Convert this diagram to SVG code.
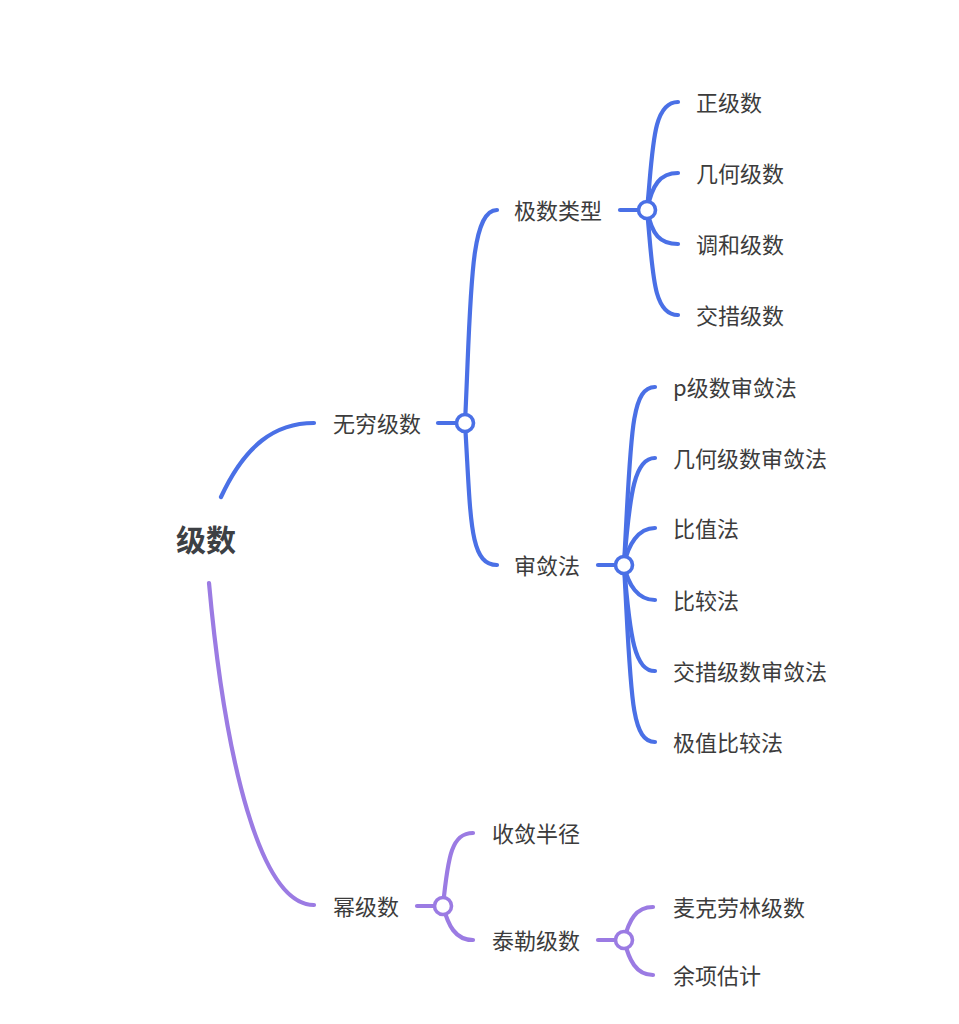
<svg xmlns="http://www.w3.org/2000/svg" width="959" height="1024" viewBox="0 0 959 1024">
<style>
text{font-family:"Noto Sans CJK SC","Noto Sans",sans-serif;font-size:22px;fill:#3c3c3c;dominant-baseline:central}
.root{font-size:30px;font-weight:bold;fill:#3d4044}
.b{stroke:#4a70e6;stroke-width:4.2;fill:none;stroke-linecap:round}
.p{stroke:#9b7be3;stroke-width:4.2;fill:none;stroke-linecap:round}
.jb{fill:#fff;stroke:#4a70e6;stroke-width:3.6}
.jp{fill:#fff;stroke:#9b7be3;stroke-width:3.6}
</style>
<rect width="959" height="1024" fill="#fff"/>
<g id="connectors">
<path class="b" d="M221,497 C245,445 275,423 314,423"/>
<path class="b" d="M438,423 L465,423"/>
<path class="b" d="M465,423 C471,300 469,210 497,210"/>
<path class="b" d="M465,423 C471,520 469,565 497,565"/>
<path class="b" d="M620,210 L647,210"/>
<path class="b" d="M647,210 C653,150 652,102 678,102"/>
<path class="b" d="M647,210 C652,185 660,173 678,173"/>
<path class="b" d="M647,210 C652,235 660,244 678,244"/>
<path class="b" d="M647,210 C653,270 652,315 678,315"/>
<path class="b" d="M598,565 L624,565"/>
<path class="b" d="M624,565 C631,440 630,387 655,387"/>
<path class="b" d="M624,565 C630,490 635,458 655,458"/>
<path class="b" d="M624,565 C628,545 638,528 655,528"/>
<path class="b" d="M624,565 C628,585 638,600 655,600"/>
<path class="b" d="M624,565 C630,640 635,671 655,671"/>
<path class="b" d="M624,565 C631,690 630,742 655,742"/>
<path class="p" d="M209,583 C225,760 260,905 314,905"/>
<path class="p" d="M417,906 L443,906"/>
<path class="p" d="M443,906 C448,855 452,833 473,833"/>
<path class="p" d="M443,906 C448,925 455,940 473,940"/>
<path class="p" d="M598,940 L624,940"/>
<path class="p" d="M624,940 C629,920 636,907 653,907"/>
<path class="p" d="M624,940 C629,960 636,975 653,975"/>
<circle class="jb" cx="465" cy="423" r="8.5"/>
<circle class="jb" cx="647" cy="210" r="8.5"/>
<circle class="jb" cx="624" cy="565" r="8.5"/>
<circle class="jp" cx="443" cy="906" r="8.5"/>
<circle class="jp" cx="624" cy="940" r="8.5"/>
</g>
<g id="n-root"><text class="root" x="176" y="538">级数</text></g>
<g id="n-wuqiong"><text x="333" y="422">无穷级数</text></g>
<g id="n-leixing"><text x="514" y="209">极数类型</text></g>
<g id="n-zheng"><text x="696" y="101">正级数</text></g>
<g id="n-jihe"><text x="696" y="172">几何级数</text></g>
<g id="n-tiaohe"><text x="696" y="243">调和级数</text></g>
<g id="n-jiaocuo"><text x="696" y="314">交措级数</text></g>
<g id="n-shenlian"><text x="514" y="564">审敛法</text></g>
<g id="n-p"><text x="673" y="386">p级数审敛法</text></g>
<g id="n-jihesl"><text x="673" y="457">几何级数审敛法</text></g>
<g id="n-bizhi"><text x="673" y="527">比值法</text></g>
<g id="n-bijiao"><text x="673" y="599">比较法</text></g>
<g id="n-jiaocuosl"><text x="673" y="670">交措级数审敛法</text></g>
<g id="n-jizhi"><text x="673" y="741">极值比较法</text></g>
<g id="n-mi"><text x="333" y="905">幂级数</text></g>
<g id="n-banjing"><text x="492" y="832">收敛半径</text></g>
<g id="n-taile"><text x="492" y="939">泰勒级数</text></g>
<g id="n-maike"><text x="673" y="906">麦克劳林级数</text></g>
<g id="n-yuxiang"><text x="673" y="974">余项估计</text></g>
</svg>
